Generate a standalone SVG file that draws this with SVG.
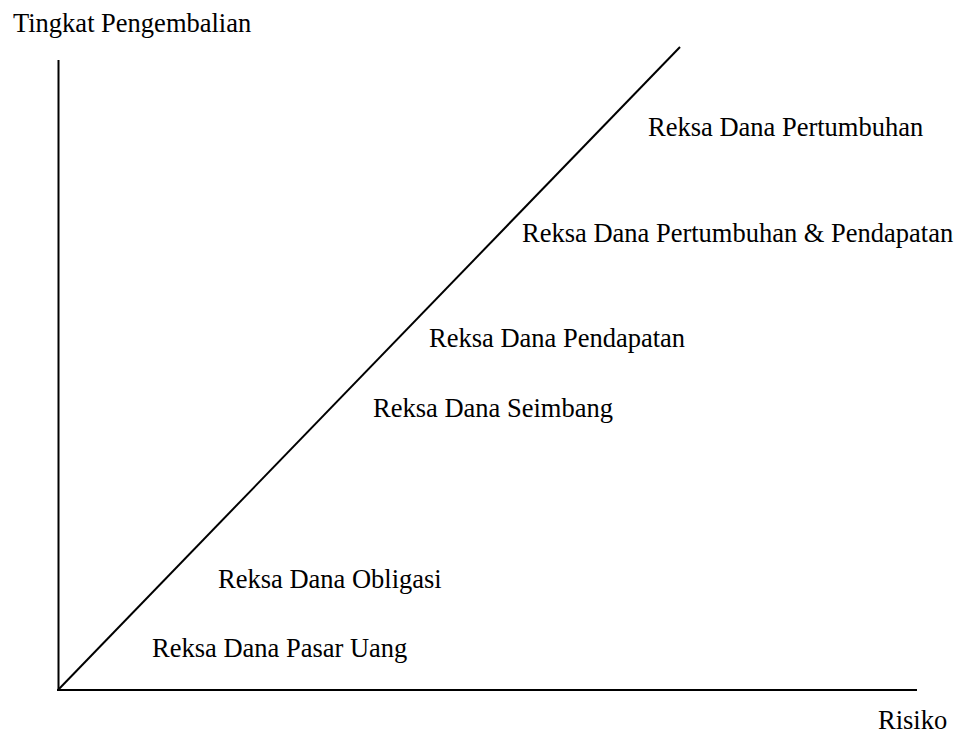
<svg xmlns="http://www.w3.org/2000/svg" width="960" height="731" viewBox="0 0 960 731">
<style>
text{font-family:"Liberation Serif","Times New Roman",serif;font-size:26.5px;fill:#000}
line{stroke:#000;stroke-width:2}
</style>
<rect width="960" height="731" fill="#fff"/>
<g id="connectors">
<line x1="58.5" y1="60" x2="58.5" y2="690"/>
<line x1="57" y1="690" x2="917" y2="690"/>
<line x1="58" y1="690" x2="680" y2="47"/>
</g>
<g id="axis-y"><text x="13" y="32">Tingkat Pengembalian</text></g>
<g id="axis-x"><text x="878" y="729">Risiko</text></g>
<g id="n1"><text x="648" y="136">Reksa Dana Pertumbuhan</text></g>
<g id="n2"><text x="522" y="242">Reksa Dana Pertumbuhan &amp; Pendapatan</text></g>
<g id="n3"><text x="429" y="347">Reksa Dana Pendapatan</text></g>
<g id="n4"><text x="373" y="417">Reksa Dana Seimbang</text></g>
<g id="n5"><text x="218" y="588">Reksa Dana Obligasi</text></g>
<g id="n6"><text x="152" y="657">Reksa Dana Pasar Uang</text></g>
</svg>
